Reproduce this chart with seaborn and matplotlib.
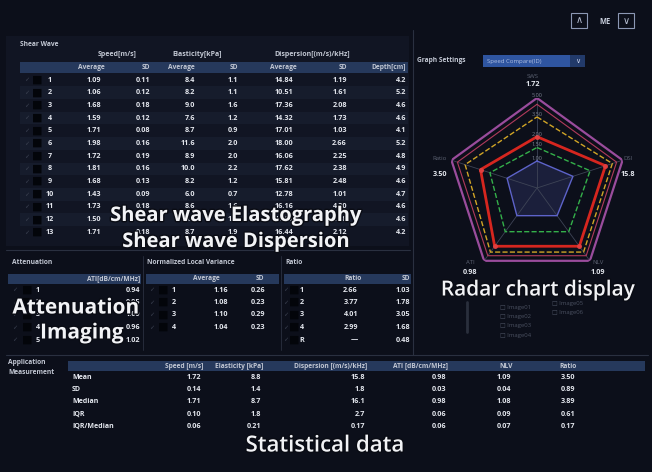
import numpy as np
import matplotlib
matplotlib.use("Agg")
import matplotlib.pyplot as plt
import matplotlib.patheffects as pe
from matplotlib.patches import Rectangle
import seaborn as sns

BG = "#0c0f1a"
PANEL = "#111523"
STRIPE = "#161c2c"
HEAD = "#26395c"
TXT = "#e4e7ee"
HTXT = "#c3c8d4"
DIM = "#5c6272"
LINE = "#2a3040"

sns.set_theme(style="dark", rc={"axes.facecolor": BG, "figure.facecolor": BG})
plt.rcParams["font.family"] = ["Open Sans", "DejaVu Sans"]

# ---------------- data ----------------
sw_ids = [str(i) for i in range(1, 14)]
sw_speed_avg = ["1.09", "1.06", "1.68", "1.59", "1.71", "1.98", "1.72", "1.81", "1.68", "1.43", "1.73", "1.50", "1.71"]
sw_speed_sd = ["0.11", "0.12", "0.18", "0.12", "0.08", "0.16", "0.19", "0.16", "0.13", "0.09", "0.18", "0.12", "0.18"]
sw_elast_avg = ["8.4", "8.2", "9.0", "7.6", "8.7", "11.6", "8.9", "10.0", "8.2", "6.0", "8.6", "6.8", "8.7"]
sw_elast_sd = ["1.1", "1.1", "1.6", "1.2", "0.9", "2.0", "2.0", "2.2", "1.2", "0.7", "1.6", "1.1", "1.9"]
sw_disp_avg = ["14.84", "10.51", "17.36", "14.32", "17.01", "18.00", "16.06", "17.62", "15.81", "12.78", "16.16", "14.60", "16.44"]
sw_disp_sd = ["1.19", "1.61", "2.08", "1.73", "1.03", "2.66", "2.25", "2.38", "2.48", "1.01", "4.20", "1.98", "2.12"]
sw_depth = ["4.2", "5.2", "4.6", "4.6", "4.1", "5.2", "4.8", "4.9", "4.6", "4.7", "4.6", "4.6", "4.2"]
sw_headers = ["Average", "SD", "Average", "SD", "Average", "SD", "Depth[cm]"]
sw_groups = ["Speed[m/s]", "Elasticity[kPa]", "Dispersion[(m/s)/kHz]"]

att_ids = ["1", "2", "3", "4", "5"]
att_ati = ["0.94", "0.95", "1.00", "0.96", "1.02"]

nlv_ids = ["1", "2", "3", "4"]
nlv_avg = ["1.16", "1.08", "1.10", "1.04"]
nlv_sd = ["0.26", "0.23", "0.29", "0.23"]

ratio_ids = ["1", "2", "3", "4", "R"]
ratio_val = ["2.66", "3.77", "4.01", "2.99", "\u2014"]
ratio_sd = ["1.03", "1.78", "3.05", "1.68", "0.48"]

stat_rows = ["Mean", "SD", "Median", "IQR", "IQR/Median"]
stat_cols = ["Speed [m/s]", "Elasticity [kPa]", "Dispersion [(m/s)/kHz]", "ATI [dB/cm/MHz]", "NLV", "Ratio"]
stat_speed = ["1.72", "0.14", "1.71", "0.10", "0.06"]
stat_elast = ["8.8", "1.4", "8.7", "1.8", "0.21"]
stat_disp = ["15.8", "1.8", "16.1", "2.7", "0.17"]
stat_ati = ["0.98", "0.03", "0.98", "0.06", "0.06"]
stat_nlv = ["1.09", "0.04", "1.08", "0.09", "0.07"]
stat_ratio = ["3.50", "0.89", "3.89", "0.61", "0.17"]

radar_names = ["SWS", "DSI", "NLV", "ATI", "Ratio"]
radar_values = ["1.72", "15.8", "1.09", "0.98", "3.50"]
radar_outer = [1.0, 1.0, 1.0, 1.0, 1.0]
radar_pink = [0.93, 0.93, 0.93, 0.93, 0.93]
radar_yellow = [0.79, 0.88, 0.88, 0.88, 0.84]
radar_red = [0.57, 0.80, 0.80, 0.80, 0.66]
radar_green = [0.45, 0.62, 0.60, 0.60, 0.55]
radar_blue = [0.30, 0.42, 0.38, 0.38, 0.35]
radar_ticks = ["5.00", "3.50", "2.00", "1.50", "1.00"]
legend_items = ["Image01", "Image02", "Image03", "Image04", "Image05", "Image06"]

# ---------------- figure ----------------
fig = plt.figure(figsize=(6.52, 4.72), dpi=100)
ax = fig.add_axes([0, 0, 1, 1])
ax.set_xlim(0, 652)
ax.set_ylim(472, 0)
ax.axis("off")


def box(x0, y0, x1, y1, color, **kw):
    ax.add_patch(Rectangle((x0, y0), x1 - x0, y1 - y0, color=color, lw=0, zorder=0, **kw))


def txt(x, y, s, ha="right", size=5.2, color=TXT, weight="bold", **kw):
    ax.text(x, y, s, ha=ha, va="center", fontsize=size, color=color, fontweight=weight, **kw)


def row_marks(x_check, x_sq, x_id, y, label):
    txt(x_check, y, "\u2713", ha="center", size=4.5, color="#3c4252", weight="normal")
    txt(x_sq, y, "\u25A0", ha="center", size=8, color="#03050a", weight="normal")
    txt(x_id, y, label, ha="center")


# panel separators
ax.plot([413, 413], [30, 355], color=LINE, lw=0.8)
ax.plot([6, 410], [250, 250], color=LINE, lw=0.8)
ax.plot([6, 648], [355, 355], color=LINE, lw=0.8)
ax.plot([143, 143], [256, 350], color=LINE, lw=0.6)
ax.plot([281, 281], [256, 350], color=LINE, lw=0.6)

# ---- shear wave table ----
box(6, 36, 409, 246, PANEL)
txt(20, 45, "Shear Wave", ha="left", size=4.8, color=HTXT)
for name, xc in zip(sw_groups, [117, 197, 312]):
    txt(xc, 54, name, ha="center", size=5, color=HTXT)
box(20, 62, 408, 73, HEAD)
for h, xr in zip(sw_headers, [105, 150, 195, 238, 297, 347, 406]):
    txt(xr, 67.5, h, size=4.8, color=HTXT)
sw_cols = [sw_speed_avg, sw_speed_sd, sw_elast_avg, sw_elast_sd, sw_disp_avg, sw_disp_sd, sw_depth]
sw_right = [101, 150, 195, 238, 293, 347, 406]
for i, rid in enumerate(sw_ids):
    y = 80 + 12.7 * i
    if i % 2 == 1:
        box(20, y - 6.3, 408, y + 6.3, STRIPE)
    row_marks(27, 37, 50, y, rid)
    for col, xr in zip(sw_cols, sw_right):
        txt(xr, y, col[i])

# ---- attenuation / NLV / ratio ----
txt(12, 263, "Attenuation", ha="left", size=4.8, color=HTXT)
txt(147, 263, "Normalized Local Variance", ha="left", size=4.8, color=HTXT)
txt(285, 263, "Ratio", ha="left", size=4.8, color=HTXT)
box(8, 274, 141, 284, HEAD)
box(146, 274, 279, 284, HEAD)
box(284, 274, 411, 284, HEAD)
txt(140, 279, "ATI[dB/cm/MHz]", size=4.8, color=HTXT)
txt(220, 279, "Average", size=4.8, color=HTXT)
txt(264, 279, "SD", size=4.8, color=HTXT)
txt(362, 279, "Ratio", size=4.8, color=HTXT)
txt(410, 279, "SD", size=4.8, color=HTXT)
for i, rid in enumerate(att_ids):
    y = 290 + 12.5 * i
    row_marks(15, 27, 38, y, rid)
    txt(140, y, att_ati[i])
for i, rid in enumerate(nlv_ids):
    y = 290 + 12.5 * i
    row_marks(152, 163, 174, y, rid)
    txt(228, y, nlv_avg[i])
    txt(265, y, nlv_sd[i])
for i, rid in enumerate(ratio_ids):
    y = 290 + 12.5 * i
    row_marks(286, 294, 302, y, rid)
    txt(358, y, ratio_val[i])
    txt(410, y, ratio_sd[i])

# ---- statistical table ----
txt(8, 363, "Application", ha="left", size=4.8, color=HTXT)
txt(8, 373, "Measurement", ha="left", size=4.8, color=HTXT)
box(68, 361, 645, 371, HEAD)
stat_right = [203, 263, 367, 448, 513, 577]
for h, xr in zip(stat_cols, stat_right):
    txt(xr, 366, h, size=4.8, color=HTXT)
stat_data = [stat_speed, stat_elast, stat_disp, stat_ati, stat_nlv, stat_ratio]
for i, rname in enumerate(stat_rows):
    y = 377.5 + 12.2 * i
    txt(72, y, rname, ha="left", size=5)
    for col, xr in zip(stat_data, stat_right):
        txt(xr - 2, y, col[i])

# ---- radar header controls ----
for x0 in [571, 618]:
    ax.add_patch(Rectangle((x0, 13), 16, 15, fill=False, ec="#8c98b4", lw=0.8))
txt(579, 20.5, "\u2227", ha="center", size=7, color="#b8c0d4", weight="normal")
txt(626, 21, "\u2228", ha="center", size=7, color="#b8c0d4", weight="normal")
txt(605, 21, "ME", ha="center", size=5.5, color="#c8cedc")
txt(417, 60, "Graph Settings", ha="left", size=4.8, color=HTXT)
box(483, 55, 585, 67, "#2f55a0")
box(570, 55, 585, 67, "#223a6a")
txt(487, 61, "Speed Compare(ID)", ha="left", size=4.3, color="#aebde0", weight="normal")
txt(578, 61.5, "\u2228", ha="center", size=5, color="#c8d2ea", weight="normal")

# radar axis labels
lab_pos = [(533, 76, 85), (628, 159, 175), (598, 262, 273), (470, 262, 273), (440, 159, 175)]
for (x, yg, yw), nm, val in zip(lab_pos, radar_names, radar_values):
    txt(x, yg, nm, ha="center", size=4.3, color=DIM, weight="normal")
    txt(x, yw, val, ha="center", size=5.2)

# legend (dim)
ax.plot([467, 467], [302, 332], color="#2a2f3c", lw=2)
for i, item in enumerate(legend_items[:4]):
    txt(500, 307 + 9.5 * i, "\u25A1 " + item, ha="left", size=4.3, color="#4a5060", weight="normal")
for i, item in enumerate(legend_items[4:]):
    txt(552, 303 + 9.5 * i, "\u25A1 " + item, ha="left", size=4.3, color="#4a5060", weight="normal")

# ---- radar chart ----
cx, cy, R = 537, 188, 90
rax = fig.add_axes([(cx - R) / 652, (472 - cy - R) / 472, 2 * R / 652, 2 * R / 472],
                   projection="polar")
rax.set_facecolor("none")
rax.set_theta_zero_location("N")
rax.set_theta_direction(-1)
rax.set_ylim(0, 1)
rax.grid(False)
rax.set_xticks([])
rax.set_yticks([])
rax.spines["polar"].set_visible(False)

ang = np.linspace(0, 2 * np.pi, len(radar_names), endpoint=False)
closed = np.append(ang, ang[0])


def ring(vals, color, lw, ls="-", fill=None):
    v = np.append(vals, vals[0])
    rax.plot(closed, v, color=color, lw=lw, ls=ls)
    if fill:
        rax.fill(closed, v, color=fill, alpha=0.25, lw=0)


for a in ang:
    rax.plot([a, a], [0, 1], color="#3e4456", lw=0.6)
ring(radar_outer, "#9a4c9c", 1.6)
ring(radar_pink, "#b03a5c", 0.8)
ring(radar_yellow, "#d1a526", 1.0, "--")
ring(radar_red, "#d6261f", 2.0)
ring(radar_green, "#34b04a", 1.0, "--")
ring(radar_blue, "#5d63c9", 1.0, fill="#4a4fa0")
rax.plot(ang, radar_red, "o", color="#e04040", ms=2.5)

for lvl, t in zip([radar_outer[0], radar_yellow[0], radar_red[0], radar_green[0], radar_blue[0]], radar_ticks):
    rax.text(0, lvl, t, ha="center", va="bottom", fontsize=4, color="#7a8090", clip_on=False)

# ---- overlay captions ----
stroke = [pe.withStroke(linewidth=2, foreground="#0a0c14")]
for s, x, y, size, w in [("Shear wave Elastography", 236, 216, 14.5, "bold"),
                         ("Shear wave Dispersion", 236, 242, 14.5, "bold"),
                         ("Attenuation", 76, 308, 15, "bold"),
                         ("Imaging", 82, 333, 15, "bold"),
                         ("Radar chart display", 538, 290, 15, "semibold"),
                         ("Statistical data", 325, 446, 16, "semibold")]:
    ax.text(x, y, s, ha="center", va="center", fontsize=size, color="#f2f3f6",
            fontweight=w, path_effects=stroke, zorder=5)

fig.savefig("out.png", dpi=100, facecolor=BG)
